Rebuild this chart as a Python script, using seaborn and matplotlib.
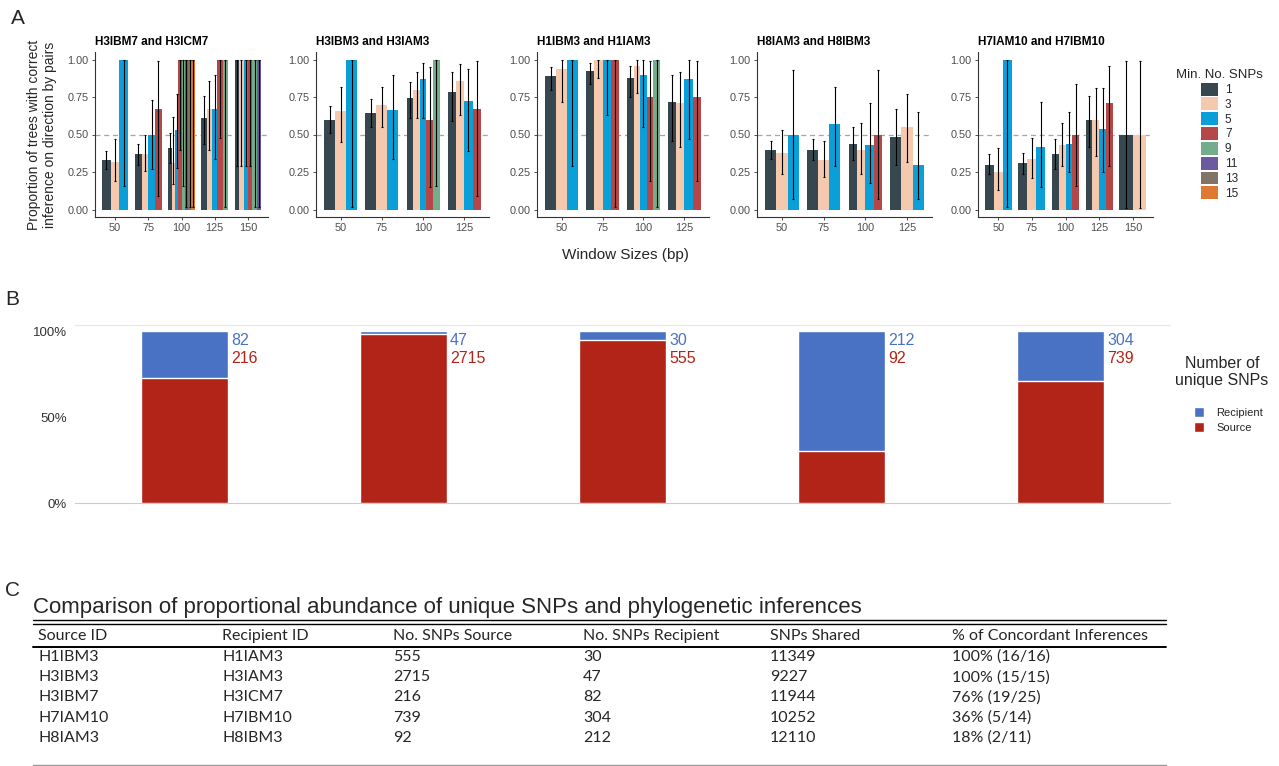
import numpy as np
import pandas as pd
import matplotlib
matplotlib.use("Agg")
import matplotlib.pyplot as plt
import seaborn as sns
from matplotlib.patches import Patch

# ---------------- data ----------------
snp_levels = [1, 3, 5, 7, 9, 11, 13, 15]
snp_colors = ['#37474f', '#f4c9ad', '#0a9fd8', '#b54748', '#74ad8b', '#6b5a9f', '#807466', '#dd7933']

panel_titles = ['H3IBM7 and H3ICM7', 'H3IBM3 and H3IAM3', 'H1IBM3 and H1IAM3',
                'H8IAM3 and H8IBM3', 'H7IAM10 and H7IBM10']

# panel 1: H3IBM7 and H3ICM7
p1_win = [50, 50, 50, 75, 75, 75, 75, 100, 100, 100, 100, 100, 100, 100, 100,
          125, 125, 125, 125, 125, 150, 150, 150, 150, 150, 150]
p1_snp = [1, 3, 5, 1, 3, 5, 7, 1, 3, 5, 7, 9, 11, 13, 15, 1, 3, 5, 7, 9, 1, 3, 5, 7, 9, 11]
p1_prop = [0.33, 0.32, 1.0, 0.37, 0.37, 0.50, 0.667, 0.41, 0.31, 0.53, 1.0, 1.0, 1.0, 1.0, 1.0,
           0.61, 0.667, 0.667, 1.0, 1.0, 1.0, 1.0, 1.0, 1.0, 1.0, 1.0]
p1_lo = [0.27, 0.19, 0.16, 0.30, 0.26, 0.27, 0.09, 0.31, 0.17, 0.28, 0.40, 0.16, 0.02, 0.02, 0.02,
         0.44, 0.40, 0.34, 0.48, 0.02, 0.29, 0.29, 0.29, 0.29, 0.02, 0.02]
p1_hi = [0.39, 0.47, 1.0, 0.44, 0.50, 0.73, 0.99, 0.51, 0.62, 0.77, 1.0, 1.0, 1.0, 1.0, 1.0,
         0.76, 0.86, 0.90, 1.0, 1.0, 1.0, 1.0, 1.0, 1.0, 1.0, 1.0]

# panel 2: H3IBM3 and H3IAM3
p2_win = [50, 50, 50, 75, 75, 75, 100, 100, 100, 100, 100, 125, 125, 125, 125]
p2_snp = [1, 3, 5, 1, 3, 5, 1, 3, 5, 7, 9, 1, 3, 5, 7]
p2_prop = [0.60, 0.655, 1.0, 0.645, 0.70, 0.665, 0.745, 0.80, 0.87, 0.60, 1.0, 0.785, 0.855, 0.725, 0.667]
p2_lo = [0.51, 0.45, 0.02, 0.55, 0.55, 0.34, 0.61, 0.61, 0.61, 0.15, 0.16, 0.59, 0.63, 0.39, 0.09]
p2_hi = [0.69, 0.82, 1.0, 0.74, 0.82, 0.90, 0.85, 0.92, 0.98, 0.95, 1.0, 0.92, 0.97, 0.94, 0.99]

# panel 3: H1IBM3 and H1IAM3
p3_win = [50, 50, 50, 75, 75, 75, 75, 100, 100, 100, 100, 100, 125, 125, 125, 125]
p3_snp = [1, 3, 5, 1, 3, 5, 7, 1, 3, 5, 7, 9, 1, 3, 5, 7]
p3_prop = [0.89, 0.94, 1.0, 0.925, 1.0, 1.0, 1.0, 0.88, 0.955, 0.90, 0.75, 1.0, 0.72, 0.71, 0.87, 0.75]
p3_lo = [0.80, 0.72, 0.29, 0.84, 0.88, 0.63, 0.02, 0.75, 0.78, 0.55, 0.19, 0.02, 0.46, 0.42, 0.47, 0.19]
p3_hi = [0.95, 1.0, 1.0, 0.98, 1.0, 1.0, 1.0, 0.96, 1.0, 1.0, 0.99, 1.0, 0.90, 0.92, 1.0, 0.99]

# panel 4: H8IAM3 and H8IBM3
p4_win = [50, 50, 50, 75, 75, 75, 100, 100, 100, 100, 125, 125, 125]
p4_snp = [1, 3, 5, 1, 3, 5, 1, 3, 5, 7, 1, 3, 5]
p4_prop = [0.40, 0.375, 0.50, 0.40, 0.333, 0.57, 0.435, 0.40, 0.43, 0.50, 0.485, 0.55, 0.30]
p4_lo = [0.34, 0.24, 0.07, 0.33, 0.22, 0.29, 0.33, 0.24, 0.18, 0.07, 0.30, 0.32, 0.07]
p4_hi = [0.46, 0.53, 0.93, 0.47, 0.46, 0.82, 0.55, 0.58, 0.71, 0.93, 0.67, 0.77, 0.65]

# panel 5: H7IAM10 and H7IBM10
p5_win = [50, 50, 50, 75, 75, 75, 100, 100, 100, 100, 125, 125, 125, 125, 150, 150]
p5_snp = [1, 3, 5, 1, 3, 5, 1, 3, 5, 7, 1, 3, 5, 7, 1, 3]
p5_prop = [0.30, 0.25, 1.0, 0.31, 0.335, 0.415, 0.37, 0.43, 0.44, 0.50, 0.60, 0.60, 0.54, 0.71, 0.50, 0.50]
p5_lo = [0.24, 0.13, 0.02, 0.24, 0.21, 0.15, 0.27, 0.29, 0.25, 0.16, 0.42, 0.36, 0.25, 0.29, 0.01, 0.01]
p5_hi = [0.37, 0.41, 1.0, 0.38, 0.48, 0.72, 0.47, 0.58, 0.65, 0.84, 0.76, 0.81, 0.81, 0.96, 0.99, 0.99]

# panel B
pair_ids = ['H3IBM7/H3ICM7', 'H3IBM3/H3IAM3', 'H1IBM3/H1IAM3', 'H8IAM3/H8IBM3', 'H7IAM10/H7IBM10']
recipient_snps = [82, 47, 30, 212, 304]
source_snps = [216, 2715, 555, 92, 739]

# panel C table
tbl_header = ['Source ID', 'Recipient ID', 'No. SNPs Source', 'No. SNPs Recipient',
              'SNPs Shared', '% of Concordant Inferences']
tbl_source = ['H1IBM3', 'H3IBM3', 'H3IBM7', 'H7IAM10', 'H8IAM3']
tbl_recipient = ['H1IAM3', 'H3IAM3', 'H3ICM7', 'H7IBM10', 'H8IBM3']
tbl_n_source = ['555', '2715', '216', '739', '92']
tbl_n_recipient = ['30', '47', '82', '304', '212']
tbl_shared = ['11349', '9227', '11944', '10252', '12110']
tbl_concord = ['100% (16/16)', '100% (15/15)', '76% (19/25)', '36% (5/14)', '18% (2/11)']

# ---------------- figure ----------------
W, H = 1279, 766
sns.set_theme(style="white")
plt.rcParams['font.family'] = ['Liberation Sans', 'DejaVu Sans']

fig = plt.figure(figsize=(W / 100, H / 100), dpi=100)


def px_axes(x0, y0, x1, y1):
    return fig.add_axes([x0 / W, 1 - y1 / H, (x1 - x0) / W, (y1 - y0) / H])


def draw_panel_a(ax, title, win, snp, prop, lo, hi):
    df = pd.DataFrame(dict(win=win, snp=snp, prop=prop, lo=lo, hi=hi))
    wins = list(dict.fromkeys(win))
    for gi, w in enumerate(wins):
        sub = df[df.win == w]
        n = len(sub)
        bw = 0.8 / n
        xs = gi - 0.4 + bw * (np.arange(n) + 0.5)
        cols = [snp_colors[snp_levels.index(s)] for s in sub.snp]
        ax.bar(xs, sub.prop.values, width=bw, color=cols, linewidth=0, zorder=2)
        ax.errorbar(xs, sub.prop.values,
                    yerr=[sub.prop.values - sub.lo.values, sub.hi.values - sub.prop.values],
                    fmt='none', ecolor='black', elinewidth=0.8, capsize=1.0, capthick=0.8, zorder=3)
    ax.axhline(0.5, color='#a6a6a6', ls=(0, (4, 3)), lw=0.9, zorder=1)
    ax.set_xlim(-0.6, len(wins) - 0.4)
    ax.set_ylim(-0.05, 1.05)
    ax.set_xticks(range(len(wins)))
    ax.set_xticklabels([str(w) for w in wins])
    ax.set_yticks([0, 0.25, 0.5, 0.75, 1.0])
    ax.set_yticklabels(['0.00', '0.25', '0.50', '0.75', '1.00'])
    ax.tick_params(axis='both', labelsize=7.8, labelcolor='#4d4d4d', length=2.5, width=0.6,
                   color='#333333', pad=2, bottom=True, left=True)
    for s in ['top', 'right']:
        ax.spines[s].set_visible(False)
    for s in ['left', 'bottom']:
        ax.spines[s].set_color('#333333')
        ax.spines[s].set_linewidth(0.8)
    ax.set_title(title, loc='left', fontsize=8.5, fontweight='bold', pad=5, color='black')
    ax.set_facecolor('white')


a_x = [(95, 268), (316, 489), (537, 709), (757, 932), (978, 1153)]
a_data = [(p1_win, p1_snp, p1_prop, p1_lo, p1_hi), (p2_win, p2_snp, p2_prop, p2_lo, p2_hi),
          (p3_win, p3_snp, p3_prop, p3_lo, p3_hi), (p4_win, p4_snp, p4_prop, p4_lo, p4_hi),
          (p5_win, p5_snp, p5_prop, p5_lo, p5_hi)]
for (x0, x1), t, d in zip(a_x, panel_titles, a_data):
    ax = px_axes(x0, 52, x1, 217)
    draw_panel_a(ax, t, *d)

fig.text(42 / W, 1 - 135 / H, 'Proportion of trees with correct\ninference on direction by pairs',
         rotation=90, ha='center', va='center', fontsize=10, linespacing=1.1)
fig.text(625 / W, 1 - 255 / H, 'Window Sizes (bp)', ha='center', va='center', fontsize=11)
fig.text(18 / W, 1 - 18 / H, 'A', ha='center', va='center', fontsize=15)

fig.legend(handles=[Patch(facecolor=c, edgecolor='none') for c in snp_colors],
           labels=[str(s) for s in snp_levels], title='Min. No. SNPs',
           loc='upper left', bbox_to_anchor=(1168 / W, 1 - 61 / H), frameon=False,
           fontsize=8.5, title_fontsize=9.5, handlelength=1.4, handleheight=1.3,
           labelspacing=0.12, handletextpad=0.6, borderpad=0.2)

# ---------------- panel B ----------------
axB = px_axes(75, 325, 1170, 503)
rec = np.array(recipient_snps, dtype=float)
src = np.array(source_snps, dtype=float)
dfB = pd.DataFrame(dict(pair=pair_ids, total=(rec + src) / (rec + src), source=src / (rec + src)))
blue = '#4a72c4'
red = '#b22418'
sns.barplot(data=dfB, x='pair', y='total', color=blue, width=0.4, saturation=1, ax=axB, zorder=2)
sns.barplot(data=dfB, x='pair', y='source', color=red, width=0.4, saturation=1, ax=axB, zorder=3)
for i, (r, s) in enumerate(zip(recipient_snps, source_snps)):
    axB.annotate(str(r), xy=(i + 0.2, 1.0), xytext=(2, -7), textcoords='offset points',
                 ha='left', va='center', color=blue, fontsize=11.5)
    axB.annotate(str(s), xy=(i + 0.2, 1.0), xytext=(2, -20), textcoords='offset points',
                 ha='left', va='center', color=red, fontsize=11.5)
axB.set_xlim(-0.5, 4.5)
axB.set_ylim(0, 1.035)
axB.set_yticks([0, 0.5, 1.0])
axB.set_yticklabels(['0%', '50%', '100%'])
axB.set_xticks([])
axB.set_xlabel('')
axB.set_ylabel('')
axB.tick_params(axis='y', length=0, labelsize=9.5, labelcolor='#333333', pad=6)
axB.spines['left'].set_visible(False)
axB.spines['right'].set_visible(False)
axB.spines['top'].set_color('#e8e8e8')
axB.spines['bottom'].set_color('#cccccc')
axB.spines['top'].set_linewidth(0.8)
axB.spines['bottom'].set_linewidth(0.8)
fig.text(12 / W, 1 - 300 / H, 'B', ha='center', va='center', fontsize=15)

fig.text(1222 / W, 1 - 372 / H, 'Number of\nunique SNPs', ha='center', va='center',
         fontsize=11.5, linespacing=1.15)
fig.legend(handles=[Patch(facecolor=blue), Patch(facecolor=red)], labels=['Recipient', 'Source'],
           loc='upper left', bbox_to_anchor=(1186 / W, 1 - 399 / H), frameon=False, fontsize=8,
           handlelength=0.9, handleheight=1.1, labelspacing=0.35, handletextpad=1.1, borderpad=0.2)

# ---------------- panel C ----------------
fig.text(12 / W, 1 - 590 / H, 'C', ha='center', va='center', fontsize=15)
fig.text(33 / W, 1 - 607 / H,
         'Comparison of proportional abundance of unique SNPs and phylogenetic inferences',
         ha='left', va='center', fontsize=16)
axC = px_axes(0, 610, W, H)
axC.set_xlim(0, W)
axC.set_ylim(H, 610)
axC.axis('off')
col_x = [38, 222, 393, 583, 770, 952]
axC.plot([33, 1166], [620, 620], color='black', lw=1.0)
axC.plot([33, 1166], [624, 624], color='black', lw=1.0)
axC.plot([33, 1166], [647, 647], color='black', lw=1.4)
axC.plot([33, 1166], [765, 765], color='#999999', lw=1.0)
for x, h in zip(col_x, tbl_header):
    axC.text(x, 636, h, ha='left', va='center', fontsize=11.5, family='Lato')
cols = [tbl_source, tbl_recipient, tbl_n_source, tbl_n_recipient, tbl_shared, tbl_concord]
for j, col in enumerate(cols):
    for i, v in enumerate(col):
        axC.text(col_x[j], 657 + 20.2 * i, v, ha='left', va='center', fontsize=11.5, family='Lato')

fig.savefig('out.png', dpi=100, facecolor='white')
